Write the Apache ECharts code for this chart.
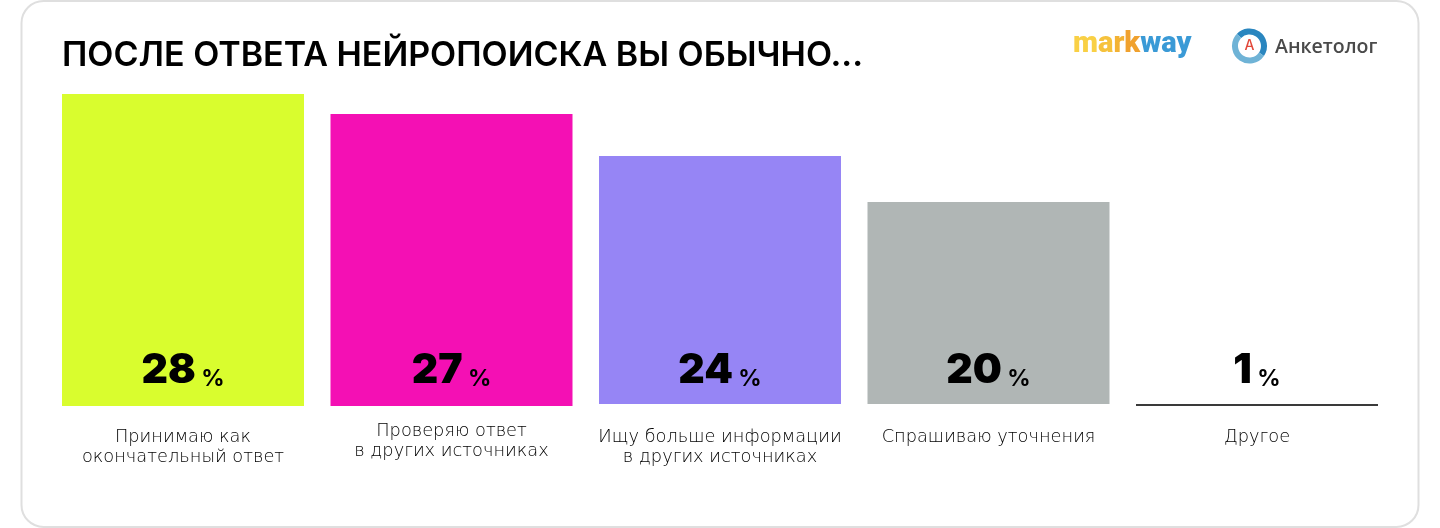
<!DOCTYPE html>
<html>
<head>
<meta charset="utf-8">
<style>html,body{margin:0;padding:0;background:#fff}#view{width:1440px;height:528px}</style>
<script src="https://cdn.jsdelivr.net/npm/echarts@6/dist/echarts.min.js"></script>
</head>
<body>
<div id="view"></div>
<script>
var categories = ['Принимаю как\nокончательный ответ', 'Проверяю ответ\nв других источниках', 'Ищу больше информации\nв других источниках', 'Спрашиваю уточнения', 'Другое']
var percentLabels = [28, 27, 24, 20, 1]
// bar lengths as drawn in the picture, they are not quite proportional to the printed numbers
var barLengths = [28, 26.2, 22.26, 18.13, 0.18]
var barOffsets = [0, 0, 0.18, 0.18, 0]
var barColors = ['#d9fd2e', '#f410b4', '#9685f5', '#b0b6b5', '#3a3a3a']
var raisedCategory = 1

var font = 'Inter'
var labelFont = 'DejaVu Sans'
var myChart = echarts.init(document.getElementById('view'))

function categoryAxis(margin, showLabel) {
    return {
        type: 'category',
        position: 'bottom',
        data: categories,
        axisLine: { show: false },
        axisTick: { show: false },
        axisLabel: {
            interval: 0,
            margin: margin,
            verticalAlign: 'top',
            fontFamily: labelFont,
            fontSize: 17.8,
            fontWeight: 200,
            lineHeight: 20,
            color: '#000',
            formatter: function (v, i) { return showLabel(i) ? v : '' }
        }
    }
}

function logoText(color) {
    return { fontFamily: 'Roboto', fontSize: 29, fontWeight: 900, fill: color }
}

var option = {
    animation: false,
    title: {
        text: 'ПОСЛЕ ОТВЕТА НЕЙРОПОИСКА ВЫ ОБЫЧНО...',
        left: 57,
        top: 34,
        textStyle: { fontFamily: font, fontSize: 34, fontWeight: 600, color: '#000' }
    },
    grid: { left: 48.75, right: 48.75, top: 94, bottom: 122 },
    xAxis: [
        categoryAxis(21, function (i) { return i != raisedCategory }),
        // the second answer sits a few pixels higher than the others
        categoryAxis(15, function (i) { return i == raisedCategory })
    ],
    yAxis: { type: 'value', min: 0, max: 28, show: false },
    series: [
        {
            type: 'bar',
            stack: 'a',
            barWidth: 242,
            silent: true,
            itemStyle: { color: 'transparent' },
            data: barOffsets,
            z: 3,
            label: {
                show: true,
                position: 'insideBottom',
                distance: 15,
                formatter: function (p) {
                    return '{n|' + percentLabels[p.dataIndex] + '}{p| %}'
                },
                rich: {
                    n: { fontFamily: font, fontSize: 41, fontWeight: 900, color: '#000', lineHeight: 37, verticalAlign: 'bottom' },
                    p: { fontFamily: font, fontSize: 23, fontWeight: 700, color: '#000', lineHeight: 44, verticalAlign: 'bottom' }
                }
            }
        },
        {
            type: 'bar',
            stack: 'a',
            barWidth: 242,
            data: barLengths.map(function (v, i) {
                return { value: v, itemStyle: { color: barColors[i] } }
            })
        }
    ],
    graphic: [
        { type: 'rect', z: -1, shape: { x: 21.5, y: 1, width: 1397, height: 526, r: 22 }, style: { fill: '#fff', stroke: '#dfdfdf', lineWidth: 2 } },
        {
            type: 'text', x: 1073, y: 30,
            style: {
                text: '{a|m}{b|a}{c|r}{d|k}{e|way}',
                rich: {
                    a: logoText('#f9d045'),
                    b: logoText('#f6c23c'),
                    c: logoText('#f3b233'),
                    d: logoText('#f0a12e'),
                    e: logoText('#3a9ad6')
                }
            }
        },
        { type: 'arc', shape: { cx: 1249.5, cy: 46, r: 14.5, startAngle: 0.6, endAngle: 3.9, clockwise: false }, style: { fill: 'none', stroke: '#2a86bf', lineWidth: 6 } },
        { type: 'arc', shape: { cx: 1249.5, cy: 46, r: 14.5, startAngle: 0.6, endAngle: 3.9 }, style: { fill: 'none', stroke: '#6fb3d6', lineWidth: 6 } },
        { type: 'text', x: 1249.5, y: 46, style: { text: 'А', font: '500 14px Inter', fill: '#e2483a', align: 'center', verticalAlign: 'middle' } },
        { type: 'text', x: 1275, y: 37, style: { text: 'Анкетолог', font: '600 19.5px "Open Sans"', fill: '#4a4a4a' } }
    ]
}
myChart.setOption(option)
</script>
</body>
</html>
